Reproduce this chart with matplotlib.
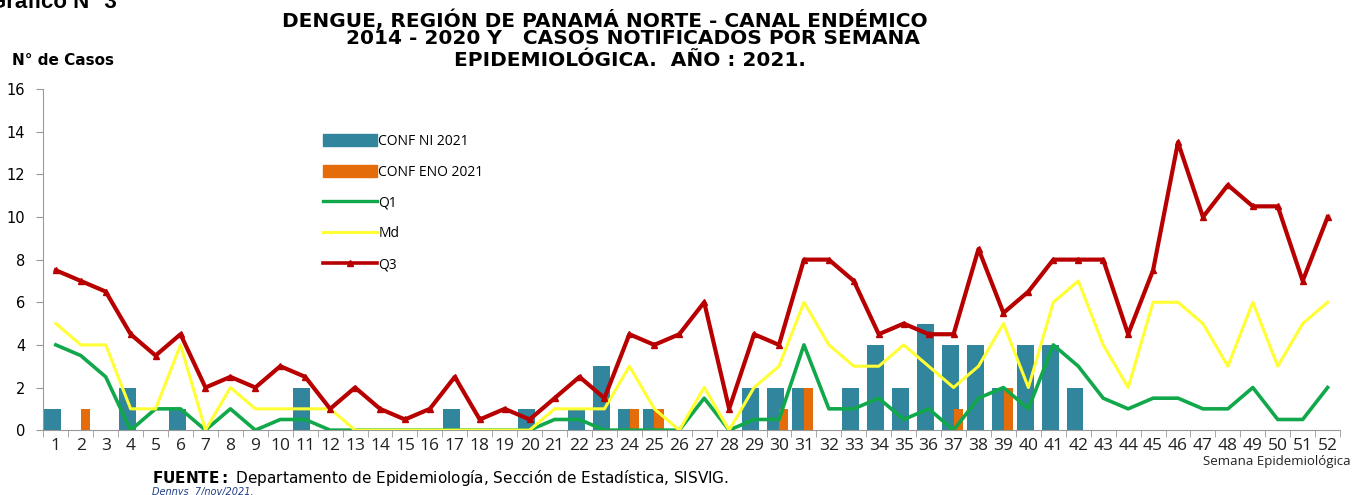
import numpy as np
import matplotlib.pyplot as plt
from matplotlib.lines import Line2D
from matplotlib.patches import Patch

# semanas epidemiológicas
semanas = np.arange(1, 53)

# casos confirmados 2021
conf_ni = [1, 0, 0, 2, 0, 1, 0, 0, 0, 0, 2, 0, 0, 0, 0, 0, 1, 0, 0, 1,
           0, 1, 3, 1, 1, 0, 0, 0, 2, 2, 2, 0, 2, 4, 2, 5, 4, 4, 2, 4,
           4, 2, 0, 0, 0, 0, 0, 0, 0, 0, 0, 0]
conf_eno = [0, 1, 0, 0, 0, 0, 0, 0, 0, 0, 0, 0, 0, 0, 0, 0, 0, 0, 0, 0,
            0, 0, 0, 1, 1, 0, 0, 0, 0, 1, 2, 0, 0, 0, 0, 0, 1, 0, 2, 0,
            0, 0, 0, 0, 0, 0, 0, 0, 0, 0, 0, 0]

# canal endémico 2014-2020
q1 = [4, 3.5, 2.5, 0, 1, 1, 0, 1, 0, 0.5, 0.5, 0, 0, 0, 0, 0, 0, 0, 0, 0,
      0.5, 0.5, 0, 0, 0, 0, 1.5, 0, 0.5, 0.5, 4, 1, 1, 1.5, 0.5, 1, 0, 1.5, 2, 1,
      4, 3, 1.5, 1, 1.5, 1.5, 1, 1, 2, 0.5, 0.5, 2]
md = [5, 4, 4, 1, 1, 4, 0, 2, 1, 1, 1, 1, 0, 0, 0, 0, 0, 0, 0, 0,
      1, 1, 1, 3, 1, 0, 2, 0, 2, 3, 6, 4, 3, 3, 4, 3, 2, 3, 5, 2,
      6, 7, 4, 2, 6, 6, 5, 3, 6, 3, 5, 6]
q3 = [7.5, 7, 6.5, 4.5, 3.5, 4.5, 2, 2.5, 2, 3, 2.5, 1, 2, 1, 0.5, 1, 2.5, 0.5, 1, 0.5,
      1.5, 2.5, 1.5, 4.5, 4, 4.5, 6, 1, 4.5, 4, 8, 8, 7, 4.5, 5, 4.5, 4.5, 8.5, 5.5, 6.5,
      8, 8, 8, 4.5, 7.5, 13.5, 10, 11.5, 10.5, 10.5, 7, 10]

c_ni = '#31859C'
c_eno = '#E46C0A'
c_q1 = '#10A84A'
c_md = '#FFFF33'
c_q3 = '#B80000'

fig = plt.figure(figsize=(13.55, 4.95), dpi=100)
ax = fig.add_axes([0.032, 0.131, 0.957, 0.689])

ax.bar(semanas - 0.13, conf_ni, width=0.68, color=c_ni, zorder=2)
ax.bar(semanas + 0.19, conf_eno, width=0.37, color=c_eno, zorder=3)
ax.plot(semanas, q1, color=c_q1, lw=2.6, zorder=4)
ax.plot(semanas, md, color=c_md, lw=2.2, zorder=5)
ax.plot(semanas, q3, color=c_q3, lw=3.0, marker='^', ms=4, zorder=6)

ax.set_xlim(0.52, 52.5)
ax.set_ylim(0, 16)
ax.set_yticks(range(0, 17, 2))
ax.set_xticks(semanas)
ax.set_xticks(np.arange(0.5, 53, 1), minor=True)
ax.tick_params(axis='x', which='major', length=0, pad=6, labelsize=12.5)
ax.tick_params(axis='x', which='minor', length=5, color='#999999')
ax.tick_params(axis='y', length=5, color='#999999', pad=8, labelsize=10.5)
for lab in ax.get_xticklabels():
    lab.set_fontfamily('Open Sans')
    lab.set_color('#222222')
for side in ['top', 'right']:
    ax.spines[side].set_visible(False)
ax.spines['left'].set_color('#999999')
ax.spines['bottom'].set_color('#999999')

handles = [Patch(color=c_ni), Patch(color=c_eno),
           Line2D([], [], color=c_q1, lw=2.4),
           Line2D([], [], color=c_md, lw=2.2),
           Line2D([], [], color=c_q3, lw=2.6, marker='^', ms=4)]
labels = ['CONF NI 2021', 'CONF ENO 2021', 'Q1', 'Md', 'Q3']
leg = ax.legend(handles, labels, loc='upper left', bbox_to_anchor=(0.229, 0.755),
                bbox_transform=fig.transFigure, frameon=False, handlelength=3.9,
                handleheight=0.9, handletextpad=0.1, labelspacing=1.14,
                prop={'family': 'Open Sans', 'size': 10})

# título en tres líneas
tit = dict(ha='center', va='baseline', fontsize=14.5, fontweight='bold', family='DejaVu Sans')
fig.text(605 / 1355, 1 - 27 / 495, 'DENGUE, REGIÓN DE PANAMÁ NORTE - CANAL ENDÉMICO', **tit)
fig.text(633 / 1355, 1 - 44.5 / 495, '2014 - 2020 Y   CASOS NOTIFICADOS POR SEMANA', **tit)
fig.text(630 / 1355, 1 - 66 / 495, 'EPIDEMIOLÓGICA.  AÑO : 2021.', **tit)

fig.text(-0.008, 0.984, 'Gráfico N° 3', ha='left', va='baseline', fontsize=16,
         fontweight='bold', family='Liberation Sans')
fig.text(0.009, 0.878, 'N° de Casos', ha='left', va='center', fontsize=11,
         fontweight='bold', family='DejaVu Sans')
fig.text(0.997, 0.068, 'Semana Epidemiológica', ha='right', va='center',
         fontsize=9.5, family='Open Sans', color='#222222')
fig.text(0.112, 0.034, r'$\bf{FUENTE:}$ Departamento de Epidemiología, Sección de Estadística, SISVIG.',
         ha='left', va='center', fontsize=11, family='DejaVu Sans')
fig.text(0.112, 0.007, 'Dennys  7/nov/2021.', ha='left', va='center', fontsize=7,
         style='italic', color='#1F3C88', family='DejaVu Sans')

fig.savefig('out.png', dpi=100)
